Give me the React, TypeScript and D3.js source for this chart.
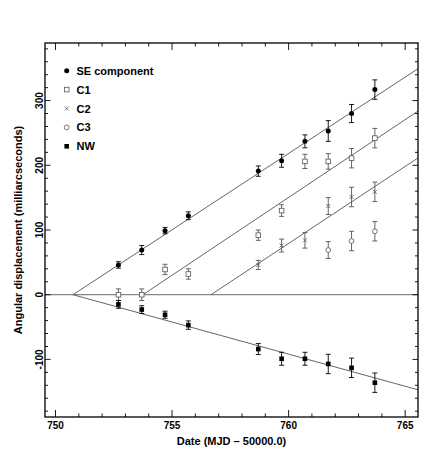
import React from 'react';
import * as d3 from 'd3';

// epochs (MJD - 50000.0)
const dates = [752.7, 753.7, 754.7, 755.7, 758.7, 759.7, 760.7, 761.7, 762.7, 763.7];
const seValues = [46, 69, 99, 122, 191, 207, 237, 253, 280, 317];
const seErrors = [5, 7, 5, 6, 8, 10, 10, 16, 14, 15];
const c1Values = [0, 0, 39, 32, 92, 130, 206, 206, 211, 242];
const c1Errors = [9, 9, 8, 8, 8, 9, 11, 12, 15, 15];
const c2Dates = [758.7, 759.7, 760.7, 761.7, 762.7, 763.7];
const c2Values = [46, 76, 84, 137, 151, 159];
const c2Errors = [7, 10, 12, 13, 15, 15];
const c3Dates = [761.7, 762.7, 763.7];
const c3Values = [69, 83, 98];
const c3Errors = [13, 15, 15];
const nwValues = [-15, -23, -31, -47, -84, -99, -99, -107, -113, -136];
const nwErrors = [6, 6, 5.5, 6.5, 8.5, 10, 10, 15, 15, 15];

// linear fits: ejection date and proper motion (mas/day)
const fitStarts = [750.75, 753.75, 756.67, 750.75];
const fitRates = [23.6, 24.05, 23.8, -9.93];

const legendLabels = ['SE component', 'C1', 'C2', 'C3', 'NW'];
const xTickLabels = [750, 755, 760, 765];
const yTickLabels = [-100, 0, 100, 200, 300];

const W = 436, H = 462;
const margin = { top: 43, right: 18, bottom: 45, left: 45 };
const font = '"Liberation Sans", Arial, Helvetica, sans-serif';
const grey = '#555';

const x = d3.scaleLinear().domain([749.55, 765.55]).range([margin.left, W - margin.right]);
const y = d3.scaleLinear().domain([-189, 389]).range([H - margin.bottom, margin.top]);

type Kind = 'se' | 'c1' | 'c2' | 'c3' | 'nw';

function Marker({ kind, cx, cy }: { kind: Kind; cx: number; cy: number }) {
  if (kind === 'se') return <circle cx={cx} cy={cy} r={2.5} fill="#000" />;
  if (kind === 'nw') return <rect x={cx - 2.3} y={cy - 2.3} width={4.6} height={4.6} fill="#000" />;
  if (kind === 'c1')
    return <rect x={cx - 2.3} y={cy - 2.3} width={4.6} height={4.6} fill="#fff" stroke={grey} strokeWidth={0.8} />;
  if (kind === 'c3') return <circle cx={cx} cy={cy} r={2.4} fill="#fff" stroke={grey} strokeWidth={0.8} />;
  return (
    <path d={`M${cx - 2},${cy - 2}L${cx + 2},${cy + 2}M${cx - 2},${cy + 2}L${cx + 2},${cy - 2}`}
      stroke={grey} strokeWidth={0.8} />
  );
}

function Series({ kind, xs, vals, errs }: { kind: Kind; xs: number[]; vals: number[]; errs: number[] }) {
  const col = kind === 'se' || kind === 'nw' ? '#000' : grey;
  return (
    <g>
      {xs.map((d, i) => {
        const px = x(d);
        const y1 = y(vals[i] + errs[i]);
        const y2 = y(vals[i] - errs[i]);
        return (
          <g key={i}>
            <path d={`M${px},${y1}V${y2}M${px - 2.5},${y1}H${px + 2.5}M${px - 2.5},${y2}H${px + 2.5}`}
              stroke={col} strokeWidth={0.9} fill="none" />
            <Marker kind={kind} cx={px} cy={y(vals[i])} />
          </g>
        );
      })}
    </g>
  );
}

export default function App() {
  const [x0, x1] = x.domain();
  const left = margin.left, right = W - margin.right, top = margin.top, bottom = H - margin.bottom;
  const xTicks = d3.range(750, 766, 1);
  const yTicks = d3.range(-180, 390, 20);
  const kinds: Kind[] = ['se', 'c1', 'c2', 'c3', 'nw'];

  return (
    <svg width={W} height={H} style={{ position: 'absolute', left: 0, top: 0, background: '#fff' }} fontFamily={font}>
      {/* zero line */}
      <line x1={left} x2={right} y1={y(0)} y2={y(0)} stroke="#888" strokeWidth={1.2} />
      {/* fit lines */}
      {fitStarts.map((t0, i) => (
        <line key={i} x1={x(t0)} y1={y(0)} x2={x(x1)} y2={y(fitRates[i] * (x1 - t0))}
          stroke={grey} strokeWidth={0.9} />
      ))}

      <Series kind="se" xs={dates} vals={seValues} errs={seErrors} />
      <Series kind="c1" xs={dates} vals={c1Values} errs={c1Errors} />
      <Series kind="c2" xs={c2Dates} vals={c2Values} errs={c2Errors} />
      <Series kind="c3" xs={c3Dates} vals={c3Values} errs={c3Errors} />
      <Series kind="nw" xs={dates} vals={nwValues} errs={nwErrors} />

      {/* ticks */}
      {xTicks.map(t => {
        const len = t % 5 === 0 ? 7 : 3.5;
        return (
          <g key={t} stroke="#000" strokeWidth={0.9}>
            <line x1={x(t)} x2={x(t)} y1={bottom} y2={bottom - len} />
            <line x1={x(t)} x2={x(t)} y1={top} y2={top + len} />
          </g>
        );
      })}
      {yTicks.map(t => {
        const len = t % 100 === 0 ? 5.5 : 3;
        return (
          <g key={t} stroke="#000" strokeWidth={0.9}>
            <line x1={left} x2={left + len} y1={y(t)} y2={y(t)} />
            <line x1={right} x2={right - len} y1={y(t)} y2={y(t)} />
          </g>
        );
      })}
      <rect x={left} y={top} width={right - left} height={bottom - top} fill="none" stroke="#000" strokeWidth={1.3} />

      {/* tick labels */}
      {xTickLabels.map(t => (
        <text key={t} x={x(t)} y={bottom + 12} textAnchor="middle" fontSize={10} fontWeight="bold">{t}</text>
      ))}
      {yTickLabels.map(t => (
        <text key={t} transform={`translate(${left - 2},${y(t)}) rotate(-90)`} textAnchor="middle"
          fontSize={10} fontWeight="bold">{t}</text>
      ))}

      {/* axis titles */}
      <text x={(left + right) / 2} y={445} textAnchor="middle" fontSize={11} fontWeight="bold">
        Date (MJD – 50000.0)
      </text>
      <text transform={`translate(21.5,${(top + bottom) / 2}) rotate(-90)`} textAnchor="middle"
        fontSize={11} fontWeight="bold">
        Angular displacement (milliarcseconds)
      </text>

      {/* legend */}
      {legendLabels.map((lab, i) => {
        const ly = 70.7 + i * 18.9;
        return (
          <g key={lab}>
            <Marker kind={kinds[i]} cx={66.7} cy={ly} />
            <text x={76.5} y={ly + 4} fontSize={11} fontWeight="bold">{lab}</text>
          </g>
        );
      })}
    </svg>
  );
}
